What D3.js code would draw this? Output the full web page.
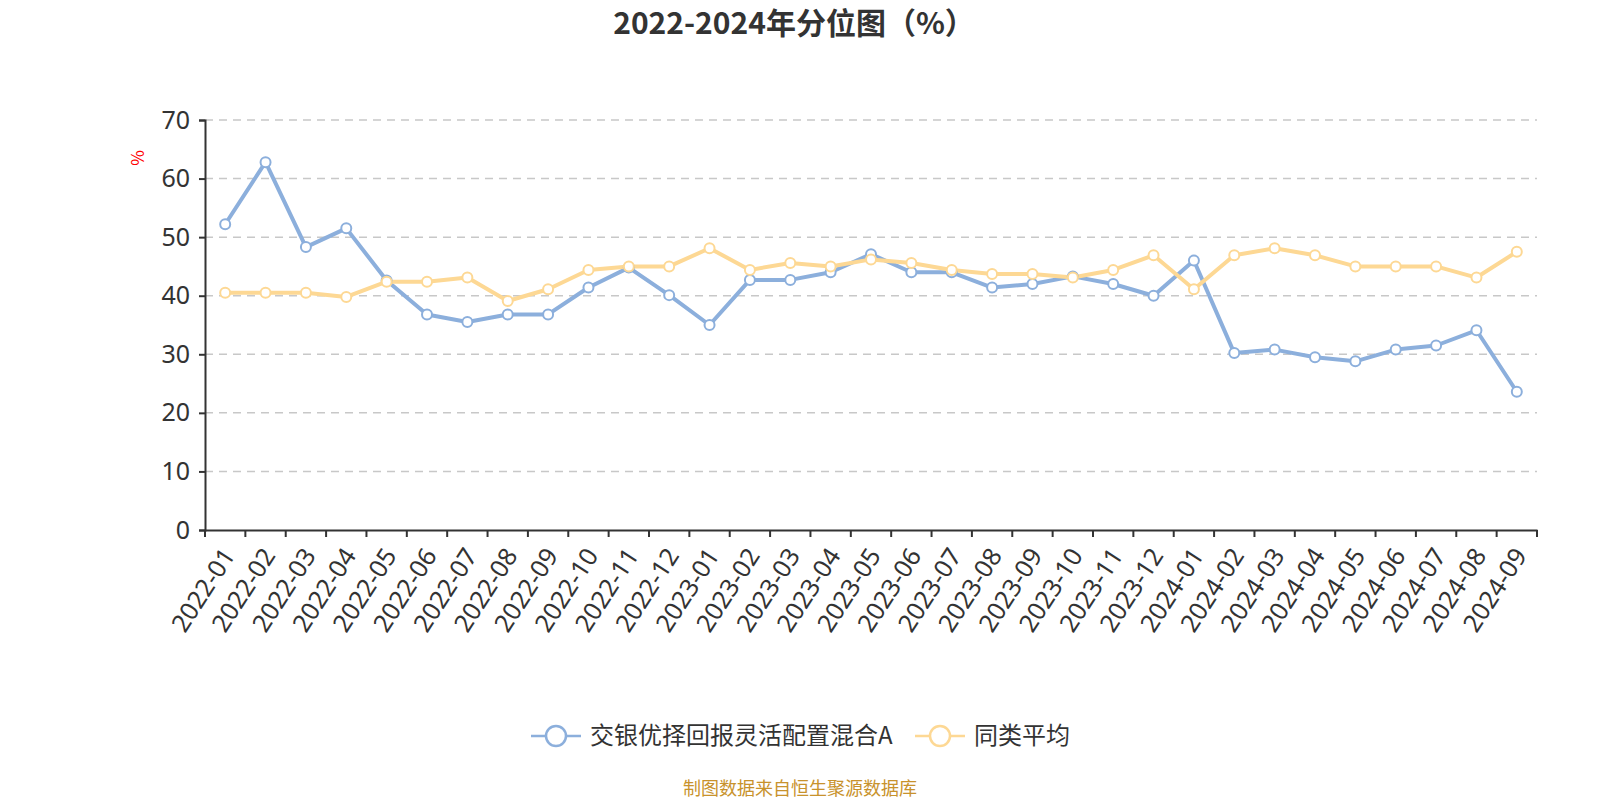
<!DOCTYPE html>
<html>
<head>
<meta charset="utf-8">
<script src="https://cdn.jsdelivr.net/npm/d3@7"></script>
<style>
  body { margin: 0; background: #fff; }
  svg text { font-family: "Noto Sans CJK SC", "Noto Sans", sans-serif; }
</style>
</head>
<body>
<svg id="chart" width="1600" height="800"></svg>
<script>
// months on the x axis
const months = [
  "2022-01", "2022-02", "2022-03", "2022-04", "2022-05", "2022-06", "2022-07",
  "2022-08", "2022-09", "2022-10", "2022-11", "2022-12", "2023-01", "2023-02",
  "2023-03", "2023-04", "2023-05", "2023-06", "2023-07", "2023-08", "2023-09",
  "2023-10", "2023-11", "2023-12", "2024-01", "2024-02", "2024-03", "2024-04",
  "2024-05", "2024-06", "2024-07", "2024-08", "2024-09"
];

// fund percentile
const fundValues = [
  52.2, 62.8, 48.3, 51.5, 42.6, 36.8, 35.5, 36.8, 36.8, 41.4, 44.8, 40.1, 35.0,
  42.7, 42.7, 44.0, 47.1, 44.0, 44.0, 41.4, 42.0, 43.3, 42.0, 40.0, 46.0, 30.2,
  30.8, 29.5, 28.8, 30.8, 31.5, 34.1, 23.6
];

// peer average
const avgValues = [
  40.5, 40.5, 40.5, 39.8, 42.4, 42.4, 43.1, 39.1, 41.1, 44.4, 45.0, 45.0, 48.1,
  44.4, 45.6, 45.0, 46.2, 45.6, 44.4, 43.7, 43.7, 43.1, 44.4, 46.9, 41.1, 46.9,
  48.1, 46.9, 45.0, 45.0, 45.0, 43.1, 47.5
];

const yTicks = [0, 10, 20, 30, 40, 50, 60, 70];

const seriesNames = ["交银优择回报灵活配置混合A", "同类平均"];
const colors = ["#8cafdc", "#fdd894"];

const svg = d3.select("#chart");
const margin = { left: 205, right: 63, top: 120, bottom: 270 };
const width = 1600 - margin.left - margin.right;
const height = 800 - margin.top - margin.bottom;

const g = svg.append("g").attr("transform", `translate(${margin.left},${margin.top})`);

const x = d3.scaleBand().domain(months).range([0, width]);
const y = d3.scaleLinear().domain([0, 70]).range([height, 0]);

// title
svg.append("text")
  .attr("x", 794).attr("y", 34)
  .attr("text-anchor", "middle")
  .attr("font-size", 30).attr("font-weight", "bold")
  .attr("fill", "#333")
  .text("2022-2024年分位图（%）");

// grid lines
g.selectAll(".grid")
  .data(yTicks.filter(d => d > 0))
  .enter().append("line")
  .attr("x1", 0).attr("x2", width)
  .attr("y1", d => y(d)).attr("y2", d => y(d))
  .attr("stroke", "#c8c8c8").attr("stroke-width", 1.5)
  .attr("stroke-dasharray", "8,6");

// y axis
const yAxis = g.append("g")
  .call(d3.axisLeft(y).tickValues(yTicks).tickSize(6).tickPadding(9));
yAxis.select(".domain").attr("stroke", "#333").attr("stroke-width", 2);
yAxis.selectAll(".tick line").attr("stroke", "#333").attr("stroke-width", 2);
yAxis.selectAll(".tick text")
  .attr("font-size", 25).attr("fill", "#333")
  .style("font-family", "'Noto Sans', sans-serif");

// unit label
svg.append("text")
  .attr("transform", "translate(144,158) rotate(-90)")
  .attr("text-anchor", "middle")
  .attr("font-size", 17).attr("fill", "#ff0000")
  .text("%");

// x axis
const xAxis = g.append("g")
  .attr("transform", `translate(0,${height})`)
  .call(d3.axisBottom(x).tickSize(0).tickFormat(d => d));
xAxis.select(".domain").attr("stroke", "#333").attr("stroke-width", 2);
xAxis.selectAll(".tick text")
  .attr("font-size", 25).attr("fill", "#333")
  .style("font-family", "'Noto Sans', sans-serif")
  .attr("text-anchor", "end")
  .attr("dy", "0.35em")
  .attr("transform", "translate(1,19) rotate(-57)");

// category boundary ticks
g.selectAll(".xtick")
  .data(d3.range(months.length + 1))
  .enter().append("line")
  .attr("x1", i => i * x.bandwidth()).attr("x2", i => i * x.bandwidth())
  .attr("y1", height).attr("y2", height + 7)
  .attr("stroke", "#333").attr("stroke-width", 2);

// lines and points
const line = d3.line()
  .x((d, i) => x(months[i]) + x.bandwidth() / 2)
  .y(d => y(d));

[fundValues, avgValues].forEach((vals, k) => {
  g.append("path")
    .datum(vals)
    .attr("fill", "none")
    .attr("stroke", colors[k])
    .attr("stroke-width", 4)
    .attr("stroke-linejoin", "round")
    .attr("d", line);
});

[fundValues, avgValues].forEach((vals, k) => {
  g.selectAll(".pt" + k)
    .data(vals)
    .enter().append("circle")
    .attr("cx", (d, i) => x(months[i]) + x.bandwidth() / 2)
    .attr("cy", d => y(d))
    .attr("r", 5)
    .attr("fill", "#fff")
    .attr("stroke", colors[k])
    .attr("stroke-width", 2);
});

// legend
const legendItems = [
  { name: seriesNames[0], x: 531 },
  { name: seriesNames[1], x: 915 }
];
const legend = svg.append("g").attr("transform", "translate(0,736)");
legendItems.forEach((it, k) => {
  legend.append("line")
    .attr("x1", it.x).attr("x2", it.x + 50)
    .attr("y1", 0).attr("y2", 0)
    .attr("stroke", colors[k]).attr("stroke-width", 2.5);
  legend.append("circle")
    .attr("cx", it.x + 25).attr("cy", 0).attr("r", 10)
    .attr("fill", "#fff").attr("stroke", colors[k]).attr("stroke-width", 2.5);
  legend.append("text")
    .attr("x", it.x + 59).attr("y", 0)
    .attr("dy", "0.35em")
    .attr("font-size", 24).attr("fill", "#333")
    .text(it.name);
});

// source note
svg.append("text")
  .attr("x", 800).attr("y", 795)
  .attr("text-anchor", "middle")
  .attr("font-size", 18).attr("fill", "#c8922c")
  .text("制图数据来自恒生聚源数据库");
</script>
</body>
</html>
